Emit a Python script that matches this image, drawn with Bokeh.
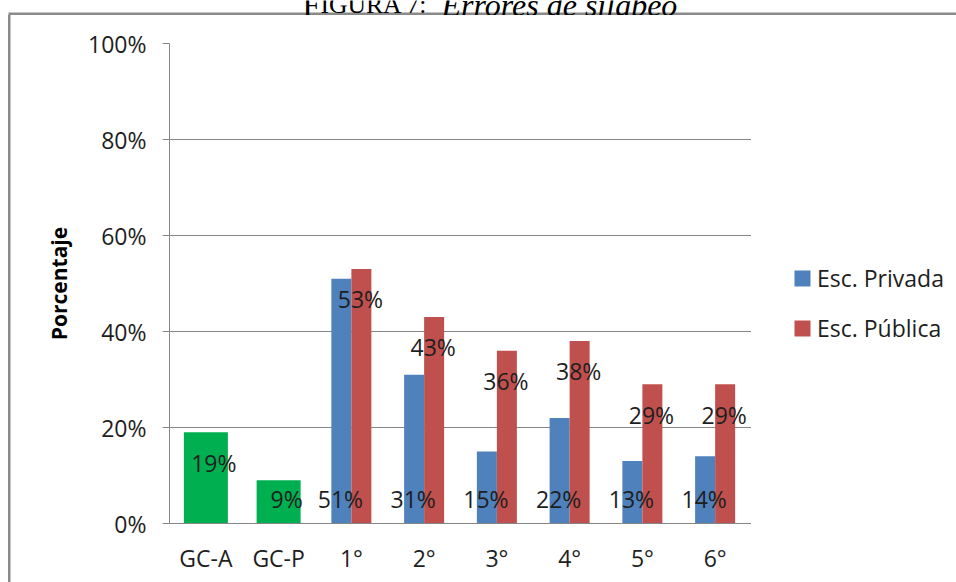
from bokeh.plotting import figure
from bokeh.layouts import column, row
from bokeh.models import (FactorRange, Range1d, Legend, LegendItem, ColumnDataSource,
                          PrintfTickFormatter, FixedTicker, Label, BoxAnnotation)
from bokeh.transform import dodge
from bokeh.core.properties import value
from bokeh.embed import file_html
from bokeh.resources import INLINE

# --- data -----------------------------------------------------------------
categories = ["GC-A", "GC-P", "1°", "2°", "3°", "4°", "5°", "6°"]
group_cats = ["GC-A", "GC-P"]
group_vals = [19, 9]
school_cats = ["1°", "2°", "3°", "4°", "5°", "6°"]
privada = [51, 31, 15, 22, 13, 14]
publica = [53, 43, 36, 38, 29, 29]
y_ticks = [0, 20, 40, 60, 80, 100]

# --- style ----------------------------------------------------------------
FONT = "Open Sans"
SERIF = "Liberation Serif"
TXT = "#1e1e1e"
GRID = "#868686"
BORDER = "#8a8a8a"
GREEN, BLUE, RED = "#00B050", "#4F81BD", "#C0504D"
W = 956
CAP_H = 15                     # caption strip, ends just under the chart box top edge
H = 582 - CAP_H                # chart height
FRAME_L, FRAME_R, FRAME_T, FRAME_B = 169, 751, 28, 508
LEG_W = W - FRAME_R            # legend column to the right of the plot area

BASE_LABEL = 5.2      # label height for labels set at the foot of a bar
END_DROP = 6.3        # how far "inside end" labels sit below the bar top


def inside_end(vals):
    return [max(v - END_DROP, BASE_LABEL) for v in vals]


# --- caption strip: foot of the caption line and the top edge of the chart box
cap = figure(width=W, height=CAP_H, title=None, output_backend="svg",
             toolbar_location=None, x_axis_location=None, y_axis_location=None,
             x_range=Range1d(0, W), y_range=Range1d(0, CAP_H), min_border=0)
cap.margin = 0
cap.grid.visible = False
cap.outline_line_color = None
cap.background_fill_color = "white"
cap.border_fill_color = "white"
cap.add_layout(BoxAnnotation(left=8, right=W, bottom=CAP_H - 14.5, top=CAP_H - 12,
                             fill_color=BORDER, fill_alpha=1.0, line_color=None))
cap_base = CAP_H - 4
cap.add_layout(Label(x=302, y=cap_base, text="F", text_font=SERIF,
                     text_font_size="32px", text_color="black",
                     text_baseline="alphabetic"))
cap.add_layout(Label(x=320, y=cap_base, text="IGURA 7:", text_font=SERIF,
                     text_font_size="25.6px", text_color="black",
                     text_baseline="alphabetic"))
cap.add_layout(Label(x=441, y=cap_base, text="Errores de silabeo", text_font=SERIF,
                     text_font_size="32px", text_font_style="italic",
                     text_color="black", text_baseline="alphabetic"))

# --- main chart -------------------------------------------------------------
p = figure(width=FRAME_R, height=H, title=None,
           x_range=FactorRange(*categories), y_range=Range1d(0, 100),
           output_backend="svg", toolbar_location=None,
           min_border_left=FRAME_L, min_border_right=0,
           min_border_top=FRAME_T, min_border_bottom=H - FRAME_B)
p.margin = 0
p.outline_line_color = None
p.background_fill_color = "white"
p.border_fill_alpha = 0
# left edge of the chart box, painted behind the transparent canvas border
p.styles = {"background-image": f"linear-gradient({BORDER},{BORDER})",
            "background-position": "8px 0px", "background-size": "2.5px 100%",
            "background-repeat": "no-repeat"}

grp = ColumnDataSource(dict(cat=group_cats, val=group_vals,
                            ly=inside_end(group_vals),
                            txt=[f"{v}%" for v in group_vals]))
sch = ColumnDataSource(dict(cat=school_cats, priv=privada, pub=publica,
                            priv_ly=[BASE_LABEL] * len(privada),
                            pub_ly=inside_end(publica),
                            priv_txt=[f"{v}%" for v in privada],
                            pub_txt=[f"{v}%" for v in publica]))

p.vbar(x="cat", top="val", width=0.605, source=grp,
       fill_color=GREEN, line_color=None)
p.vbar(x=dodge("cat", -0.1375, range=p.x_range), top="priv", width=0.275,
       source=sch, fill_color=BLUE, line_color=None)
p.vbar(x=dodge("cat", 0.1375, range=p.x_range), top="pub", width=0.275,
       source=sch, fill_color=RED, line_color=None)

label_kw = dict(text_font=value(FONT), text_font_size="23px", text_color=TXT,
                text_align="center", text_baseline="middle")
p.text(x=dodge("cat", 0.11, range=p.x_range), y="ly", text="txt", source=grp, **label_kw)
p.text(x=dodge("cat", -0.15, range=p.x_range), y="priv_ly", text="priv_txt", source=sch, **label_kw)
p.text(x=dodge("cat", 0.125, range=p.x_range), y="pub_ly", text="pub_txt", source=sch, **label_kw)

# --- axes & grid ----------------------------------------------------------
p.xgrid.visible = False
p.ygrid.ticker = FixedTicker(ticks=y_ticks)
p.ygrid.grid_line_color = GRID
p.ygrid.grid_line_width = 1

ya = p.yaxis[0]
ya.ticker = FixedTicker(ticks=y_ticks)
ya.formatter = PrintfTickFormatter(format="%d%%")
ya.axis_line_color = GRID
ya.major_tick_line_color = GRID
ya.major_tick_out = 7
ya.major_tick_in = 0
ya.minor_tick_out = 0
ya.minor_tick_in = 0
ya.major_label_standoff = 16
ya.major_label_text_font = FONT
ya.major_label_text_font_size = "23px"
ya.major_label_text_color = TXT
ya.axis_label = "Porcentaje"
ya.axis_label_text_font = FONT
ya.axis_label_text_font_size = "21px"
ya.axis_label_text_font_style = "bold"
ya.axis_label_text_color = "black"
ya.axis_label_standoff = 12

xa = p.xaxis[0]
xa.axis_line_color = GRID
xa.major_tick_out = 0
xa.major_tick_in = 0
xa.minor_tick_out = 0
xa.major_label_standoff = 18
xa.major_label_text_font = FONT
xa.major_label_text_font_size = "23px"
xa.major_label_text_color = TXT

# --- legend column ----------------------------------------------------------
leg_fig = figure(width=LEG_W, height=H, title=None, output_backend="svg",
                 toolbar_location=None, x_axis_location=None, y_axis_location=None,
                 x_range=FactorRange(*categories), y_range=Range1d(0, 100), min_border=0)
leg_fig.margin = 0
leg_fig.grid.visible = False
leg_fig.outline_line_color = None
leg_fig.background_fill_alpha = 0
leg_fig.border_fill_alpha = 0

# legend keys: the school series again, kept hidden, only their swatches are shown
key_priv = leg_fig.vbar(x="cat", top="priv", width=0.275, source=sch,
                        fill_color=BLUE, line_color=None, visible=False)
key_pub = leg_fig.vbar(x="cat", top="pub", width=0.275, source=sch,
                       fill_color=RED, line_color=None, visible=False)

legend = Legend(items=[LegendItem(label="Esc. Privada", renderers=[key_priv]),
                       LegendItem(label="Esc. Pública", renderers=[key_pub])],
                location=(41, 179), margin=0, padding=0, spacing=18,
                glyph_width=20, glyph_height=20, label_standoff=5,
                label_text_font=FONT, label_text_font_size="23px",
                label_text_color=TXT, border_line_alpha=0,
                background_fill_alpha=0)
leg_fig.add_layout(legend)

layout = column(cap, row(p, leg_fig, spacing=0, margin=0), spacing=0, margin=0)
open("out.html", "w").write(file_html(layout, INLINE))
